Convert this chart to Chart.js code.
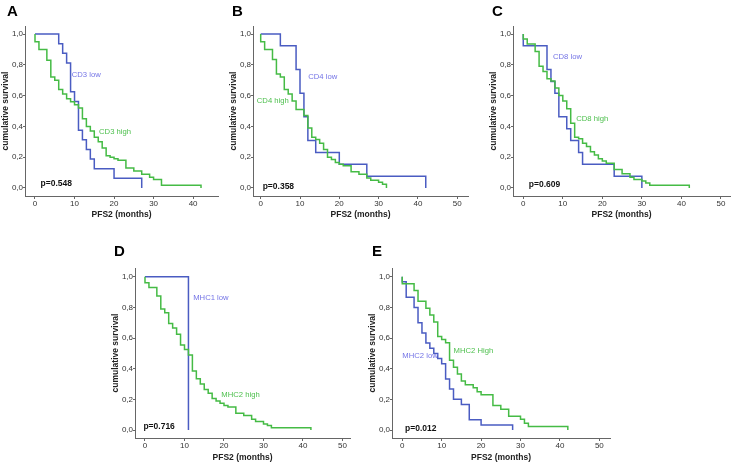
<!DOCTYPE html>
<html>
<head>
<meta charset="utf-8">
<script src="https://cdn.jsdelivr.net/npm/chart.js@4.4.1/dist/chart.umd.min.js"></script>
<style>
  html, body { margin: 0; padding: 0; background: #fff; overflow: hidden; }
  #wrap { position: relative; width: 732px; height: 463px; }
  canvas { position: absolute; }
</style>
</head>
<body>
<div id="wrap">
  <canvas id="panelA"></canvas>
  <canvas id="panelB"></canvas>
  <canvas id="panelC"></canvas>
  <canvas id="panelD"></canvas>
  <canvas id="panelE"></canvas>
</div>
<script>
// tick labels
var yTicks = [0, 0.2, 0.4, 0.6, 0.8, 1.0];
var xTicksA = [0, 10, 20, 30, 40];
var xTicks = [0, 10, 20, 30, 40, 50];

// A - CD3
var cd3LowTime = [0, 6, 7, 8, 9, 10, 11, 12, 13, 14, 15, 20, 27];
var cd3LowSurv = [1, 0.9375, 0.875, 0.8125, 0.625, 0.5625, 0.375, 0.3125, 0.25, 0.1875, 0.125, 0.0625, 0];
var cd3HighTime = [0, 0, 1, 3, 4, 5, 6, 7, 8, 9, 10, 11, 12, 13, 14, 15, 16, 17, 18, 19, 20, 21, 23, 25, 27, 29, 30, 32, 42];
var cd3HighSurv = [1, 0.95, 0.9, 0.83, 0.72, 0.7, 0.64, 0.61, 0.58, 0.56, 0.54, 0.52, 0.45, 0.4, 0.37, 0.33, 0.3, 0.26, 0.21, 0.2, 0.19, 0.18, 0.13, 0.11, 0.09, 0.07, 0.055, 0.018, 0];

// B - CD4
var cd4LowTime = [0, 5, 9, 10, 11, 12, 14, 20, 27, 42];
var cd4LowSurv = [1, 0.923, 0.769, 0.615, 0.462, 0.308, 0.231, 0.154, 0.077, 0];
var cd4HighTime = [0, 0, 1, 3, 4, 5, 6, 7, 8, 9, 11, 12, 13, 14, 15, 16, 17, 18, 19, 20, 21, 23, 25, 27, 28, 30, 31, 32];
var cd4HighSurv = [1, 0.95, 0.9, 0.835, 0.74, 0.72, 0.64, 0.61, 0.565, 0.51, 0.47, 0.39, 0.33, 0.315, 0.29, 0.25, 0.2, 0.185, 0.165, 0.155, 0.145, 0.105, 0.09, 0.065, 0.05, 0.037, 0.024, 0];

// C - CD8
var cd8LowTime = [0, 0, 6, 7, 8, 9, 11, 12, 14, 15, 23, 30];
var cd8LowSurv = [1, 0.923, 0.769, 0.692, 0.615, 0.462, 0.385, 0.308, 0.231, 0.154, 0.077, 0];
var cd8HighTime = [0, 0, 1, 3, 4, 5, 6, 7, 8, 9, 10, 11, 12, 13, 14, 15, 16, 17, 18, 19, 20, 21, 23, 25, 27, 28, 30, 31, 32, 42];
var cd8HighSurv = [1, 0.967, 0.935, 0.887, 0.79, 0.757, 0.71, 0.695, 0.65, 0.6, 0.565, 0.515, 0.42, 0.33, 0.32, 0.29, 0.27, 0.235, 0.215, 0.19, 0.175, 0.16, 0.12, 0.093, 0.07, 0.055, 0.045, 0.033, 0.018, 0];

// D - MHC1
var mhc1LowTime = [0, 11, 11];
var mhc1LowSurv = [1, 1, 0];
var mhc1HighTime = [0, 0, 1, 3, 4, 5, 6, 7, 8, 9, 10, 11, 12, 13, 14, 15, 16, 17, 18, 19, 20, 21, 23, 25, 27, 28, 30, 31, 32, 42];
var mhc1HighSurv = [1, 0.96, 0.93, 0.875, 0.79, 0.765, 0.695, 0.665, 0.625, 0.555, 0.525, 0.49, 0.385, 0.335, 0.3, 0.265, 0.24, 0.205, 0.19, 0.175, 0.16, 0.15, 0.11, 0.095, 0.07, 0.055, 0.04, 0.03, 0.015, 0];

// E - MHC2
var mhc2LowTime = [0, 0, 1, 3, 4, 5, 6, 7, 8, 9, 10, 11, 12, 13, 15, 17, 20, 28];
var mhc2LowSurv = [1, 0.967, 0.867, 0.8, 0.7, 0.633, 0.567, 0.533, 0.5, 0.467, 0.433, 0.333, 0.267, 0.2, 0.167, 0.067, 0.033, 0];
var mhc2HighTime = [0, 0, 3, 4, 6, 7, 8, 9, 10, 11, 12, 13, 14, 15, 16, 18, 19, 20, 23, 25, 27, 30, 31, 32, 42];
var mhc2HighSurv = [1, 0.955, 0.91, 0.84, 0.795, 0.75, 0.705, 0.61, 0.59, 0.57, 0.455, 0.41, 0.365, 0.32, 0.295, 0.275, 0.25, 0.23, 0.16, 0.135, 0.09, 0.07, 0.045, 0.023, 0];

var BLUE = '#4a5cc2';
var GREEN = '#45bb45';
var BLUE_TXT = '#7474e6';
var GREEN_TXT = '#4fc04f';
var AXIS = '#666666';
var FONT = "'Liberation Sans', Arial, sans-serif";

// draws the panel letter, group labels and p value
var textPlugin = {
    id: 'panelText',
    afterDraw: function (chart) {
        var o = chart.options.plugins.panelText;
        var ctx = chart.ctx;
        var xs = chart.scales.x, ys = chart.scales.y;
        ctx.save();
        ctx.textBaseline = 'top';
        ctx.textAlign = 'left';
        ctx.fillStyle = '#000';
        ctx.font = 'bold 15px ' + FONT;
        ctx.fillText(o.letter, o.letterX, 4);
        ctx.textBaseline = 'middle';
        o.labels.forEach(function (l) {
            ctx.font = (l.bold ? 'bold 8.5px ' : '7.7px ') + FONT;
            ctx.fillStyle = l.color;
            ctx.fillText(l.text, xs.getPixelForValue(l.x), ys.getPixelForValue(l.y));
        });
        ctx.restore();
    }
};

function series(t, s, color) {
    return {
        data: t.map(function (v, i) { return { x: v, y: s[i] }; }),
        borderColor: color,
        borderWidth: 1.5,
        pointRadius: 0,
        stepped: 'before',
        fill: false
    };
}

function makePanel(id, p) {
    var cv = document.getElementById(id);
    cv.width = p.w;
    cv.height = p.h;
    cv.style.left = p.left + 'px';
    cv.style.top = p.top + 'px';
    new Chart(cv, {
        type: 'line',
        data: { datasets: p.datasets },
        options: {
            responsive: false,
            animation: false,
            devicePixelRatio: 1,
            layout: { padding: { top: p.padTop, right: 4, left: 0, bottom: 0 } },
            plugins: {
                legend: { display: false },
                tooltip: { enabled: false },
                panelText: { letter: p.letter, letterX: p.letterX, labels: p.labels }
            },
            scales: {
                x: {
                    type: 'linear',
                    min: p.xMin,
                    max: p.xMax,
                    afterFit: function (s) { s.height = p.xAxisH; },
                    afterBuildTicks: function (s) { s.ticks = p.xTicks.map(function (v) { return { value: v }; }); },
                    grid: { drawOnChartArea: false, tickLength: 3, color: AXIS },
                    border: { color: AXIS },
                    ticks: { padding: 0, maxRotation: 0, autoSkip: false, color: '#333', font: { family: FONT, size: 8 } },
                    title: { display: true, text: 'PFS2 (months)', color: '#222', padding: { top: 0, bottom: 2 },
                             font: { family: FONT, size: 8.5, weight: 'bold' } }
                },
                y: {
                    min: -0.052,
                    max: p.yMax,
                    afterFit: function (s) { s.width = 25; },
                    afterBuildTicks: function (s) { s.ticks = yTicks.map(function (v) { return { value: v }; }); },
                    grid: { drawOnChartArea: false, tickLength: 2, color: AXIS },
                    border: { color: AXIS },
                    ticks: { padding: 0, color: '#333', font: { family: FONT, size: 8 },
                             callback: function (v) { return v.toFixed(1).replace('.', ','); } },
                    title: { display: true, text: 'cumulative survival', color: '#222', padding: { top: 1, bottom: 0 },
                             font: { family: FONT, size: 8.5, weight: 'bold' } }
                }
            }
        },
        plugins: [textPlugin]
    });
}

makePanel('panelA', {
    left: 0, top: 0, w: 222, h: 222, padTop: 26, xAxisH: 26, yMax: 1.052,
    xMin: -2.53, xMax: 46.3, xTicks: xTicksA, letter: 'A', letterX: 7,
    datasets: [series(cd3HighTime, cd3HighSurv, GREEN), series(cd3LowTime, cd3LowSurv, BLUE)],
    labels: [
        { text: 'CD3 low', x: 9.3, y: 0.733, color: BLUE_TXT },
        { text: 'CD3 high', x: 16.2, y: 0.364, color: GREEN_TXT },
        { text: 'p=0.548', x: 1.4, y: 0.028, color: '#111', bold: true }
    ]
});

makePanel('panelB', {
    left: 228, top: 0, w: 244, h: 222, padTop: 26, xAxisH: 26, yMax: 1.052,
    xMin: -1.96, xMax: 52.75, xTicks: xTicks, letter: 'B', letterX: 4,
    datasets: [series(cd4HighTime, cd4HighSurv, GREEN), series(cd4LowTime, cd4LowSurv, BLUE)],
    labels: [
        { text: 'CD4 low', x: 12.1, y: 0.722, color: BLUE_TXT },
        { text: 'CD4 high', x: -1.0, y: 0.564, color: GREEN_TXT },
        { text: 'p=0.358', x: 0.5, y: 0.01, color: '#111', bold: true }
    ]
});

makePanel('panelC', {
    left: 488, top: 0, w: 246, h: 222, padTop: 26, xAxisH: 26, yMax: 1.052,
    xMin: -2.6, xMax: 52.3, xTicks: xTicks, letter: 'C', letterX: 4,
    datasets: [series(cd8HighTime, cd8HighSurv, GREEN), series(cd8LowTime, cd8LowSurv, BLUE)],
    labels: [
        { text: 'CD8 low', x: 7.5, y: 0.854, color: BLUE_TXT },
        { text: 'CD8 high', x: 13.4, y: 0.446, color: GREEN_TXT },
        { text: 'p=0.609', x: 1.4, y: 0.02, color: '#111', bold: true }
    ]
});

makePanel('panelD', {
    left: 110, top: 240, w: 244, h: 225, padTop: 28, xAxisH: 27, yMax: 1.057,
    xMin: -2.53, xMax: 51.9, xTicks: xTicks, letter: 'D', letterX: 4,
    datasets: [series(mhc1HighTime, mhc1HighSurv, GREEN), series(mhc1LowTime, mhc1LowSurv, BLUE)],
    labels: [
        { text: 'MHC1 low', x: 12.2, y: 0.863, color: BLUE_TXT },
        { text: 'MHC2 high', x: 19.3, y: 0.228, color: GREEN_TXT },
        { text: 'p=0.716', x: -0.4, y: 0.022, color: '#111', bold: true }
    ]
});

makePanel('panelE', {
    left: 367, top: 240, w: 247, h: 225, padTop: 28, xAxisH: 27, yMax: 1.057,
    xMin: -2.6, xMax: 52.7, xTicks: xTicks, letter: 'E', letterX: 5,
    datasets: [series(mhc2HighTime, mhc2HighSurv, GREEN), series(mhc2LowTime, mhc2LowSurv, BLUE)],
    labels: [
        { text: 'MHC2 low', x: 0, y: 0.485, color: BLUE_TXT },
        { text: 'MHC2 High', x: 13.0, y: 0.515, color: GREEN_TXT },
        { text: 'p=0.012', x: 0.7, y: 0.01, color: '#111', bold: true }
    ]
});
</script>
</body>
</html>
